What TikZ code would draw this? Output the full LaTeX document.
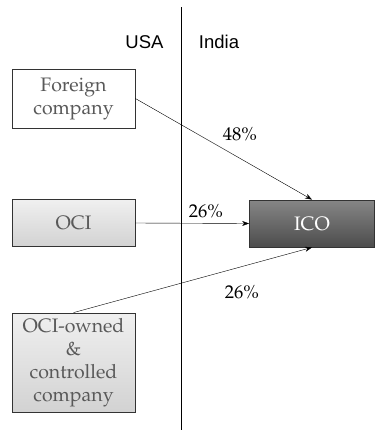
\documentclass[tikz,border=0pt]{standalone}
\usepackage[T1]{fontenc}
\usepackage{fontspec}
\setsansfont{Liberation Sans}
\usetikzlibrary{arrows.meta}
\newcommand\palfont{\fontencoding{T1}\fontfamily{ppl}\selectfont}
\tikzset{
  entity/.style={draw,thick,draw=black!80,minimum width=123pt,align=center,
    inner sep=1pt,font=\palfont\fontsize{19.5}{23}\selectfont,text=black!65},
  share/.style={-{Stealth[length=7pt,width=5pt]}},
  pct/.style={font=\palfont\fontsize{18.5}{20}\selectfont},
}
\begin{document}
\begin{tikzpicture}[x=1pt,y=-1pt]
        \useasboundingbox (0,0) rectangle (375,437);
        \coordinate (top) at (181,7);
        \coordinate (bot) at (181,430);
        \draw (top) -- (bot);
        \node[font=\sffamily\fontsize{18.5}{20}\selectfont,anchor=base] (usa) at (144.5,48){USA};
        \node[font=\sffamily\fontsize{18.5}{20}\selectfont,anchor=base] (india) at (219,48){India};
        \node[entity,minimum height=59pt,fill=white] (foreign) at (73.5,98.5){Foreign\\company};
        \node[entity,minimum height=47pt,top color=gray!12,bottom color=gray!35] (oci) at (73.5,223){OCI};
        \node[entity,minimum height=99pt,top color=gray!12,bottom color=gray!35] (owned) at (73.5,362.5){OCI-owned\\\&\\controlled\\company};
        \node[entity,minimum width=125pt,minimum height=47pt,top color=gray!95!white,bottom color=black!70,text=white] (ico) at (312,223.5){ICO};
        \draw[share] (foreign.east) -- ([xshift=0pt]ico.north);
        \draw[share] (oci.east) -- (ico.west);
        \draw[share] (owned.north) -- (ico.south);
        \node[pct] (p48) at (240,134){48\%};
        \node[pct] (p26a) at (206,211){26\%};
        \node[pct] (p26b) at (242,292){26\%};
\end{tikzpicture}
\end{document}
